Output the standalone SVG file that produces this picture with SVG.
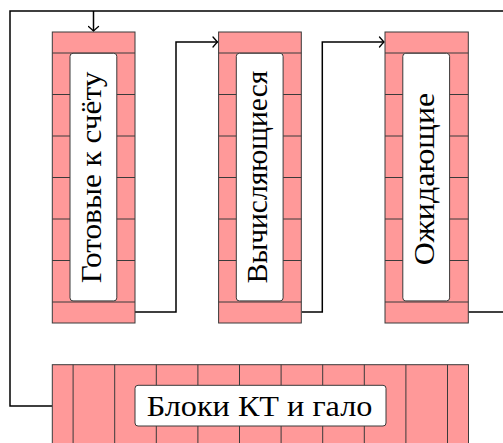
<svg xmlns="http://www.w3.org/2000/svg" width="503" height="443" viewBox="0 0 503 443">
<style>
.band{fill:#ff9999;stroke:#3a3a3a;stroke-width:1}
.cell{stroke:#3a3a3a;stroke-width:1;fill:none}
.lbl{fill:#ffffff;stroke:#3a3a3a;stroke-width:1}
.txt{font-family:"Liberation Serif","DejaVu Serif",serif;font-size:30px;fill:#000}
.conn{fill:none;stroke:#000;stroke-width:1.5}
</style>
<defs>
<marker id="arr" viewBox="-6 -6 8 12" markerWidth="8" markerHeight="12" refX="0" refY="0" orient="auto" markerUnits="userSpaceOnUse">
<path d="M-4.5,-5 Q-1.2,-1.2 0,0 Q-1.2,1.2 -4.5,5" fill="none" stroke="#000" stroke-width="1.3" stroke-linecap="round"/>
</marker>
</defs>
<g id="connectors">
<polyline class="conn" points="135,312 176,312 176,42 217.5,42" marker-end="url(#arr)"/>
<polyline class="conn" points="301.7,312 322.3,312 322.3,42 384,42" marker-end="url(#arr)"/>
<polyline class="conn" points="468.3,312 503,312"/>
<polyline class="conn" points="503,11 10,11 10,406 52.3,406"/>
<line class="conn" x1="93.5" y1="11" x2="93.5" y2="31" marker-end="url(#arr)"/>
</g>
<g id="col-ready">
<rect class="band" x="52.3" y="32" width="82.7" height="291"/>
<path class="cell" d="M52.3,53H135M52.3,94.5H135M52.3,136H135M52.3,177.5H135M52.3,219H135M52.3,260.5H135M52.3,302H135"/>
<rect class="lbl" x="70" y="53.3" width="46.8" height="247.6" rx="3"/>
<text class="txt" transform="translate(100.7,283.3) rotate(-90)" textLength="211.6" lengthAdjust="spacingAndGlyphs">Готовые к счёту</text>
</g>
<g id="col-computing">
<rect class="band" x="218.6" y="32" width="82.7" height="291"/>
<path class="cell" d="M218.6,53H301.3M218.6,94.5H301.3M218.6,136H301.3M218.6,177.5H301.3M218.6,219H301.3M218.6,260.5H301.3M218.6,302H301.3"/>
<rect class="lbl" x="236.3" y="53.3" width="46.8" height="247.6" rx="3"/>
<text class="txt" transform="translate(267.2,283.3) rotate(-90)" textLength="212.6" lengthAdjust="spacingAndGlyphs">Вычисляющиеся</text>
</g>
<g id="col-waiting">
<rect class="band" x="385" y="32" width="83.3" height="291"/>
<path class="cell" d="M385,53H468.3M385,94.5H468.3M385,136H468.3M385,177.5H468.3M385,219H468.3M385,260.5H468.3M385,302H468.3"/>
<rect class="lbl" x="402.8" y="53.3" width="46.8" height="247.6" rx="3"/>
<text class="txt" transform="translate(433.6,265.3) rotate(-90)" textLength="172.5" lengthAdjust="spacingAndGlyphs">Ожидающие</text>
</g>
<g id="halo-block">
<rect class="band" x="52.3" y="364.7" width="416.2" height="84"/>
<path class="cell" d="M73.1,364.7V448.7M114.7,364.7V448.7M156.3,364.7V448.7M197.9,364.7V448.7M239.5,364.7V448.7M281.1,364.7V448.7M322.7,364.7V448.7M364.3,364.7V448.7M405.9,364.7V448.7M447.5,364.7V448.7"/>
<rect class="lbl" x="135" y="385.3" width="251" height="40.7" rx="3"/>
<text class="txt" x="146.7" y="416" textLength="225.7" lengthAdjust="spacingAndGlyphs">Блоки КТ и гало</text>
</g>
</svg>
